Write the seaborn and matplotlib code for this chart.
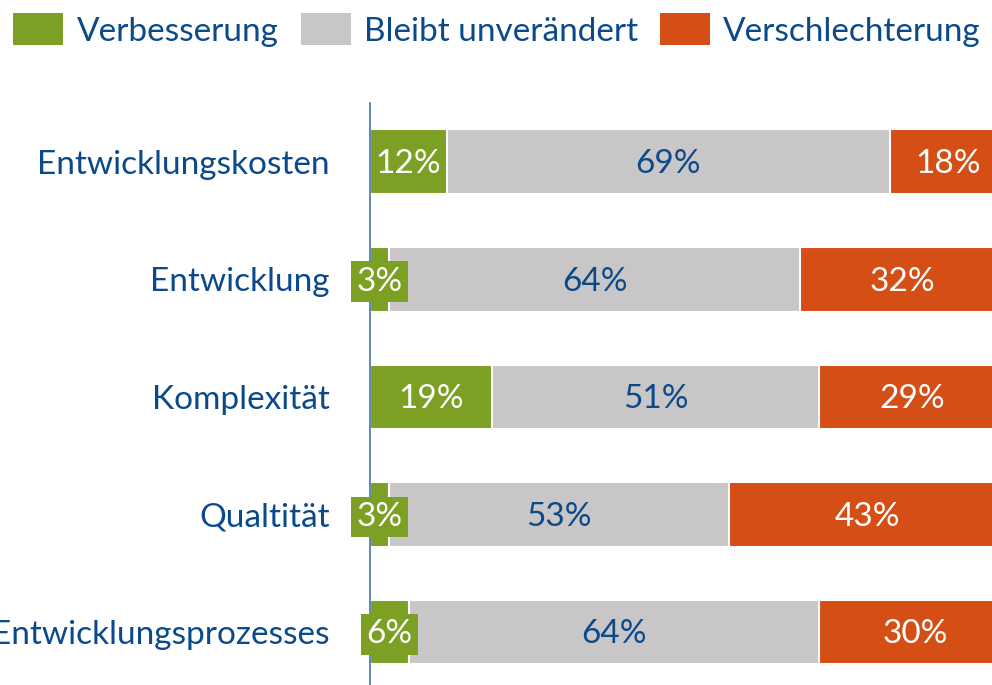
import matplotlib.pyplot as plt
import seaborn as sns
import pandas as pd
import numpy as np
from matplotlib.patches import Patch

categories = ["Entwicklungskosten", "Entwicklung", "Komplexität", "Qualtität", "Entwicklungsprozesses"]
verbesserung = [12, 3, 19, 3, 6]
unveraendert = [69, 64, 51, 53, 64]
verschlechterung = [18, 32, 29, 43, 30]
series_names = ["Verbesserung", "Bleibt unverändert", "Verschlechterung"]

GREEN = "#7BA023"
GREY = "#C8C6C7"
RED = "#D54E15"
BLUE = "#0B4A8A"
AXIS = "#4F7FB3"
FS = 24

sns.set_style("white")
plt.rcParams['font.family'] = ['Lato', 'DejaVu Sans']

df = pd.DataFrame({
    "Kategorie": categories,
    "Verbesserung": verbesserung,
    "Bleibt unverändert": unveraendert,
    "Verschlechterung": verschlechterung,
})
df["c1"] = df["Verbesserung"]
df["c2"] = df["c1"] + df["Bleibt unverändert"]
df["c3"] = df["c2"] + df["Verschlechterung"]

fig = plt.figure(figsize=(9.92, 6.85), dpi=100)
ax = fig.add_axes([370 / 992, 0.0, 1 - 370 / 992, 1 - 103 / 685])

# stacked bars drawn back to front (cumulative widths)
for col, colour in [("c3", RED), ("c2", GREY), ("c1", GREEN)]:
    sns.barplot(data=df, x=col, y="Kategorie", orient="h", color=colour, saturation=1,
                width=0.55, edgecolor="white", linewidth=1.5, ax=ax, zorder=1)

ax.set_xlim(0, 96.9)
ax.set_ylim(4.45, -0.5)
ax.set_xlabel("")
ax.set_ylabel("")
ax.set_xticks([])
ax.tick_params(axis="y", length=0, pad=29, labelsize=FS, labelcolor=BLUE)

for s in ["top", "right", "bottom"]:
    ax.spines[s].set_visible(False)
ax.spines["left"].set_color(AXIS)
ax.spines["left"].set_linewidth(1.3)
ax.spines["left"].set_zorder(2)

for i, row in df.iterrows():
    g, u, r = row["Verbesserung"], row["Bleibt unverändert"], row["Verschlechterung"]
    # small green segments get a green box behind the label
    box = dict(boxstyle="square,pad=0.16", facecolor=GREEN, edgecolor="none") if g < 10 else None
    ax.text(g / 2, i + 0.02, f"{g}%", ha="center", va="center", fontsize=FS, color="white",
            zorder=5, bbox=box)
    ax.text(g + u / 2, i + 0.02, f"{u}%", ha="center", va="center", fontsize=FS, color=BLUE, zorder=5)
    ax.text(g + u + r / 2, i + 0.02, f"{r}%", ha="center", va="center", fontsize=FS, color="white", zorder=5)

handles = [Patch(facecolor=c, edgecolor="none") for c in [GREEN, GREY, RED]]
leg = fig.legend(handles, series_names, loc="upper left", bbox_to_anchor=(0.0, 1.0),
                 ncol=3, frameon=False, fontsize=FS, handlelength=1.5, handleheight=1.1,
                 handletextpad=0.4, columnspacing=0.66, borderaxespad=0.2, borderpad=0.2)
for t in leg.get_texts():
    t.set_color(BLUE)

fig.savefig("out.png", dpi=100)
